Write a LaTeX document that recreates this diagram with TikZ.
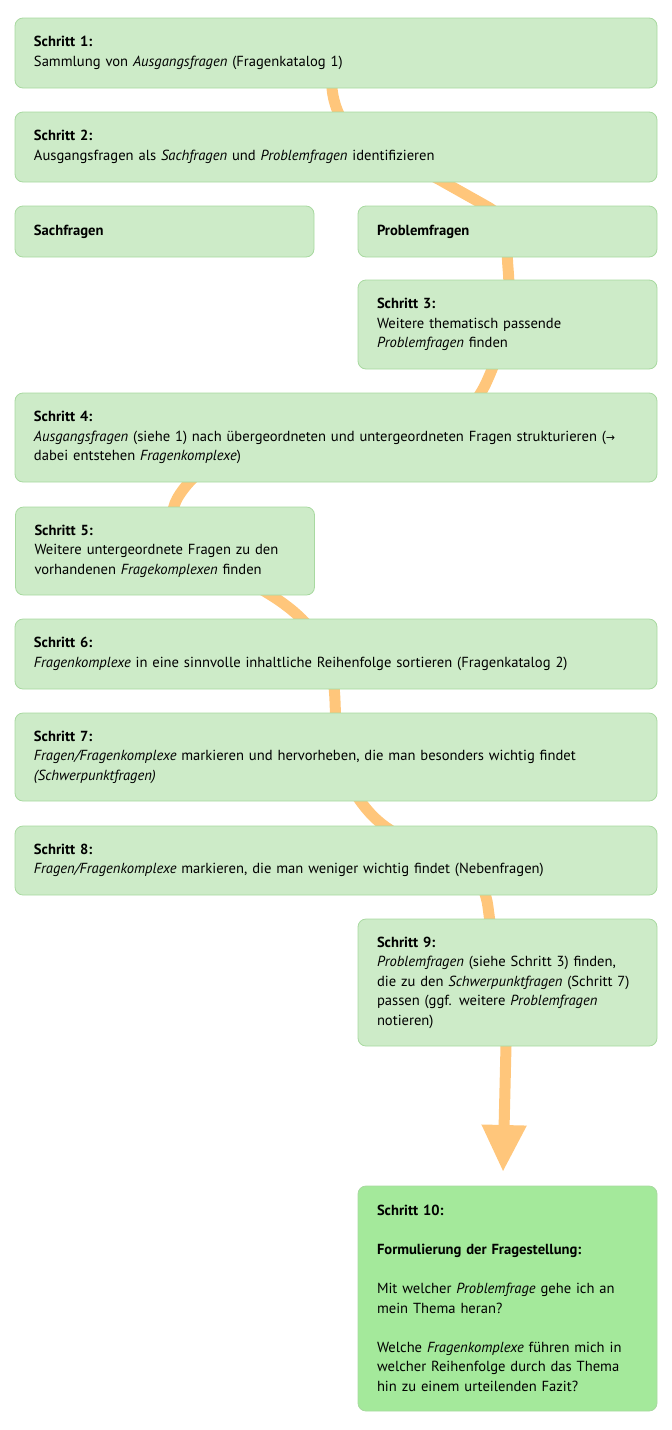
\documentclass[tikz,border=0pt]{standalone}
\usepackage{fontspec}
\setmainfont{PT Sans}
\newfontfamily\symfont{DejaVu Sans}
\usetikzlibrary{arrows.meta}
\usetikzlibrary{backgrounds}

\definecolor{boxgreen}{HTML}{CDEBC8}
\definecolor{boxline}{HTML}{A8D9A0}
\definecolor{endgreen}{HTML}{A4E99B}
\definecolor{floworange}{HTML}{FFC67B}

\tikzset{
  stepbox/.style={draw=boxline, fill=boxgreen, rounded corners=8pt, line width=0.8pt,
    align=left, inner xsep=19pt, inner ysep=0pt, font=\fontsize{14.6}{19.5}\selectfont},
  wide/.style={stepbox, minimum width=642pt, text width=604pt},
  half/.style={stepbox, minimum width=299pt, text width=261pt},
  flow/.style={floworange, line width=11pt, -{Triangle[width=42pt,length=47pt]}},
}

\begin{document}
\begin{tikzpicture}[x=1pt, y=1pt]
        \useasboundingbox (0,0) rectangle (672,-1430);
        %
        \node [wide, minimum height=70pt] (s1) at (336,-53)
          {\textbf{Schritt 1:}\\ Sammlung von \textit{Ausgangsfragen} (Fragenkatalog 1)};
        \node [wide, minimum height=70pt] (s2) at (336,-147)
          {\textbf{Schritt 2:}\\ Ausgangsfragen als \textit{Sachfragen} und \textit{Problemfragen} identifizieren};
        \node [half, minimum height=51pt] (sach) at (164.5,-231.5) {\textbf{Sachfragen}};
        \node [half, minimum height=51pt] (prob) at (507.5,-231.5) {\textbf{Problemfragen}};
        \node [half, minimum height=89pt] (s3) at (507.5,-324.5)
          {\textbf{Schritt 3:}\\ Weitere thematisch passende\\ \textit{Problemfragen} finden};
        \node [wide, minimum height=89pt] (s4) at (336,-437.5)
          {\textbf{Schritt 4:}\\ \textit{Ausgangsfragen} (siehe 1) nach übergeordneten und untergeordneten Fragen strukturieren ({\symfont\fontsize{11}{19.5}\selectfont →}\\ dabei entstehen \textit{Fragenkomplexe})};
        \node [half, minimum height=88pt] (s5) at (165,-551)
          {\textbf{Schritt 5:}\\ Weitere untergeordnete Fragen zu den\\ vorhandenen \textit{Fragekomplexen} finden};
        \node [wide, minimum height=70pt] (s6) at (336,-654)
          {\textbf{Schritt 6:}\\ \textit{Fragenkomplexe} in eine sinnvolle inhaltliche Reihenfolge sortieren (Fragenkatalog 2)};
        \node [wide, minimum height=88pt] (s7) at (336,-757)
          {\textbf{Schritt 7:}\\ \textit{Fragen/Fragenkomplexe} markieren und hervorheben, die man besonders wichtig findet\\ \textit{(Schwerpunktfragen)}};
        \node [wide, minimum height=69pt] (s8) at (336,-860.5)
          {\textbf{Schritt 8:}\\ \textit{Fragen/Fragenkomplexe} markieren, die man weniger wichtig findet (Nebenfragen)};
        \node [half, minimum height=127pt] (s9) at (507.5,-982.5)
          {\textbf{Schritt 9:}\\ \textit{Problemfragen} (siehe Schritt 3) finden,\\ die zu den \textit{Schwerpunktfragen} (Schritt 7)\\ passen (ggf. weitere \textit{Problemfragen}\\ notieren)};
        \node [half, fill=endgreen, minimum height=225pt] (s10) at (507.5,-1298.5)
          {\textbf{Schritt 10:}\\[19.5pt] \textbf{Formulierung der Fragestellung:}\\[19.5pt] Mit welcher \textit{Problemfrage} gehe ich an\\ mein Thema heran?\\[19.5pt] Welche \textit{Fragenkomplexe} führen mich in\\ welcher Reihenfolge durch das Thema\\ hin zu einem urteilenden Fazit?};
        %
        \coordinate (w1) at (334,-100);
        \coordinate (w2a) at (440,-180);
        \coordinate (w2b) at (488,-207);
        \coordinate (w3) at (508,-268);
        \coordinate (w4) at (487,-381);
        \coordinate (w5) at (180,-494);
        \coordinate (w6) at (288,-607);
        \coordinate (w7) at (335,-701);
        \coordinate (w8) at (370,-813);
        \coordinate (w9) at (488,-907);
        \coordinate (w10) at (506,-1046);
        \coordinate (tip) at (503,-1172);
        %
        \begin{scope}[on background layer]
          \draw [flow] (s1.center) to[out=-100, in=104] (w1)
            to[out=-76, in=151] (w2a) -- (w2b) to[out=-29, in=95] (w3)
            to[out=-85, in=66] (w4) to[out=-114, in=56] (w5)
            to[out=-124, in=142] (w6) to[out=-38, in=92] (w7)
            to[out=-88, in=132] (w8) to[out=-48, in=97] (w9)
            to[out=-83, in=89] (w10) -- (tip);
        \end{scope}
\end{tikzpicture}
\end{document}
